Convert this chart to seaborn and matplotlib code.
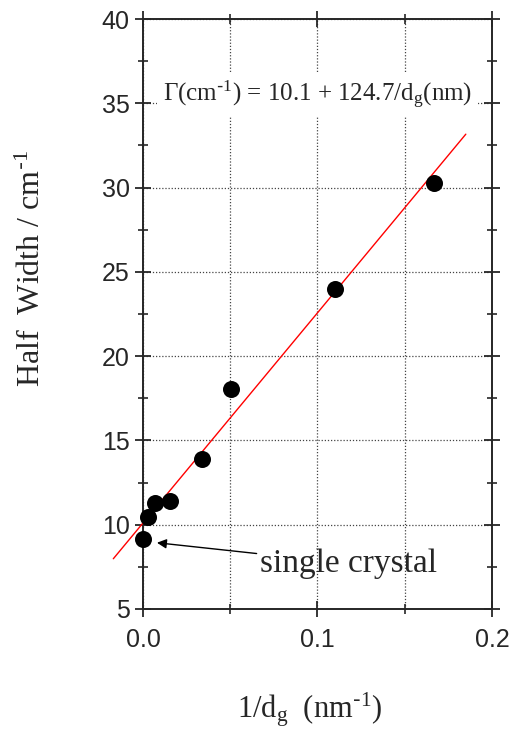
import numpy as np
import pandas as pd
import matplotlib
matplotlib.use("Agg")
import matplotlib.pyplot as plt
import seaborn as sns

# values
inv_dg = [0.0, 0.003, 0.0069, 0.0157, 0.0336, 0.0502, 0.110, 0.1668]
half_width = [9.15, 10.47, 11.29, 11.40, 13.88, 18.05, 24.0, 30.3]

# fitted line end points (Gamma = 10.1 + 124.7/dg)
fit_x = [-0.017, 0.185]
fit_y = [7.98, 33.17]

equation = r"Γ(cm$^{\text{-}1}$) = 10.1 + 124.7/d$_{g}$(nm)"

sns.set_style("ticks")
plt.rcParams["font.family"] = ["Liberation Sans", "DejaVu Sans"]
plt.rcParams["mathtext.default"] = "regular"

fig = plt.figure(figsize=(5.11, 7.33), dpi=100)
ax = fig.add_axes([0.2798, 0.1692, 0.6830, 0.8048])

df = pd.DataFrame({"x": inv_dg, "y": half_width})
fit = pd.DataFrame({"x": fit_x, "y": fit_y})

sns.lineplot(data=fit, x="x", y="y", color="red", linewidth=1.0, ax=ax,
             clip_on=False, zorder=3)
sns.scatterplot(data=df, x="x", y="y", color="black", s=150, edgecolor="black",
                linewidth=0, ax=ax, clip_on=False, zorder=4)

ax.set_xlim(0, 0.2)
ax.set_ylim(5, 40)
ax.set_xticks([0.0, 0.1, 0.2])
ax.set_xticklabels(["0.0", "0.1", "0.2"])
ax.set_xticks([0.05, 0.15], minor=True)
ax.set_yticks(np.arange(5, 41, 5))
ax.set_yticks(np.arange(7.5, 40, 5), minor=True)

ax.grid(True, which="major", axis="y", linestyle=(0, (1, 1.5)), color="#444444", linewidth=0.9)
ax.grid(True, which="both", axis="x", linestyle=(0, (1, 1.5)), color="#444444", linewidth=0.9)
ax.set_axisbelow(True)

for s in ax.spines.values():
    s.set_visible(True)
    s.set_linewidth(1.4)

ax.tick_params(axis="both", which="major", direction="inout", length=12, width=1.3,
               labelsize=18, top=True, right=True)
ax.tick_params(axis="both", which="minor", direction="inout", length=7, width=1.2,
               top=True, right=True)
ax.tick_params(axis="x", pad=8)

ax.set_xlabel(r"1/d$_{g}$  (nm$^{\text{-}1}$)", family="Liberation Serif", fontsize=22)
ax.set_ylabel(r"Half  Width / cm$^{\text{-}1}$", family="Liberation Serif", fontsize=23)
ax.xaxis.set_label_coords(0.478, -0.138)
ax.yaxis.set_label_coords(-0.276, 0.578)

ax.text(0.1, 35.5, equation, family="Liberation Serif", fontsize=18, ha="center", va="center",
        bbox=dict(facecolor="white", edgecolor="none", pad=4), zorder=2)

ax.annotate("single crystal", xy=(0.008, 8.93), xytext=(0.067, 7.7),
            family="Liberation Serif", fontsize=24, va="center", ha="left",
            arrowprops=dict(arrowstyle="-|>", color="black", lw=1.0,
                            shrinkA=0, shrinkB=0, mutation_scale=14))

fig.savefig("out.png", dpi=100)
